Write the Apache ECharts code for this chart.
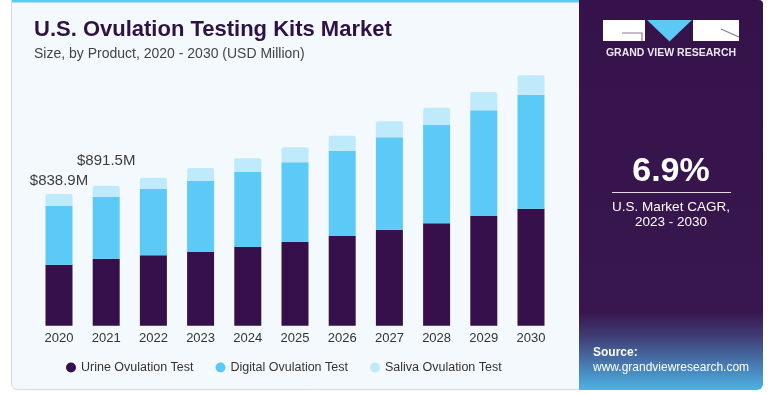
<!DOCTYPE html>
<html>
<head>
<meta charset="utf-8">
<script src="https://cdn.jsdelivr.net/npm/echarts@6/dist/echarts.min.js"></script>
<style>
html,body{margin:0;padding:0;background:#ffffff;}
#chart{width:775px;height:394px;}
</style>
</head>
<body>
<div id="chart"></div>
<script>
// Data (USD Million)
const years = ['2020','2021','2022','2023','2024','2025','2026','2027','2028','2029','2030'];
const urine = [388.6, 427, 448, 469, 501, 535, 571, 611, 652, 699, 745];
const digital = [375.8, 392, 422, 452, 478, 506, 543, 589, 626, 673, 726];
const saliva = [74.5, 72.5, 72, 83, 87, 96, 96, 102, 110, 117, 125];
const labelledYears = ['2020', '2021'];
const seriesNames = ['Urine Ovulation Test', 'Digital Ovulation Test', 'Saliva Ovulation Test'];
const cagrText = '6.9%';

const FONT = '"Liberation Sans", Arial, sans-serif';
const labelDistance = { '2020': 6, '2021': 17 };

const salivaData = saliva.map((v, i) => {
  const y = years[i];
  if (labelledYears.indexOf(y) >= 0) {
    const total = urine[i] + digital[i] + saliva[i];
    return {
      value: v,
      label: {
        show: true,
        position: 'top',
        distance: labelDistance[y],
        formatter: '$' + total.toFixed(1) + 'M',
        color: '#3d3d3d',
        fontSize: 15,
        fontFamily: FONT
      }
    };
  }
  return v;
});

const chart = echarts.init(document.getElementById('chart'), null, { renderer: 'canvas' });

const option = {
  backgroundColor: '#ffffff',
  animation: false,
  title: {
    text: 'U.S. Ovulation Testing Kits Market',
    subtext: 'Size, by Product, 2020 - 2030 (USD Million)',
    left: 29,
    top: 14,
    itemGap: 6,
    textStyle: { color: '#2e1245', fontSize: 22, fontWeight: 'bold', fontFamily: FONT },
    subtextStyle: { color: '#444444', fontSize: 14, fontFamily: FONT }
  },
  legend: {
    data: seriesNames,
    left: 61,
    top: 356,
    icon: 'circle',
    itemWidth: 10,
    itemHeight: 10,
    itemGap: 22,
    textStyle: { color: '#333333', fontSize: 12.5, fontFamily: FONT }
  },
  grid: { left: 35.4, right: 220.4, top: 74.5, bottom: 68.3, containLabel: false },
  xAxis: {
    type: 'category',
    data: years,
    axisLine: { show: false },
    axisTick: { show: false },
    axisLabel: { color: '#333333', fontSize: 13, margin: 6, fontFamily: FONT }
  },
  yAxis: { type: 'value', min: 0, max: 1600, show: false, splitLine: { show: false } },
  series: [
    { name: seriesNames[0], type: 'bar', stack: 'total', data: urine, barWidth: 27,
      itemStyle: { color: '#36104a' } },
    { name: seriesNames[1], type: 'bar', stack: 'total', data: digital, barWidth: 27,
      itemStyle: { color: '#5ccaf6' } },
    { name: seriesNames[2], type: 'bar', stack: 'total', data: salivaData, barWidth: 27,
      itemStyle: { color: '#bfeafb', borderRadius: [2, 2, 0, 0] } }
  ],
  graphic: [
    { type: 'rect', z: -10, shape: { x: 11.5, y: 0.5, width: 600, height: 389, r: [0, 0, 0, 6] },
      style: { fill: '#f4f9fd', stroke: '#d3d9de', lineWidth: 1 } },
    { type: 'rect', z: -9, shape: { x: 12, y: 0, width: 568, height: 2.5 },
      style: { fill: '#5bc8f5' } },
    { type: 'rect', z: -8, shape: { x: 579, y: 0, width: 184, height: 390, r: [0, 4, 6, 0] },
      style: { fill: new echarts.graphic.LinearGradient(0, 0, 0, 1, [
        { offset: 0, color: '#35124a' },
        { offset: 0.80, color: '#38164e' },
        { offset: 0.86, color: '#403b73' },
        { offset: 1, color: '#4db2e6' }
      ]) } },
    // logo
    { type: 'rect', z: 5, shape: { x: 603, y: 20, width: 42, height: 21 }, style: { fill: '#ffffff' } },
    { type: 'polyline', z: 6, shape: { points: [[622, 33], [642, 33], [642, 41]] },
      style: { stroke: '#8a7a96', lineWidth: 1.2, fill: null } },
    { type: 'polygon', z: 5, shape: { points: [[647, 20], [692, 20], [669.5, 41.5]] }, style: { fill: '#5bc8f5' } },
    { type: 'rect', z: 5, shape: { x: 693, y: 20, width: 46, height: 21 }, style: { fill: '#ffffff' } },
    { type: 'line', z: 6, shape: { x1: 721, y1: 29, x2: 739, y2: 37 },
      style: { stroke: '#8a7a96', lineWidth: 1.2 } },
    { type: 'text', z: 5, x: 671, y: 53, style: { text: 'GRAND VIEW RESEARCH', fill: '#ebe6f0',
      font: 'bold 10.5px ' + FONT, align: 'center', verticalAlign: 'middle' } },
    // CAGR
    { type: 'text', z: 5, x: 671, y: 172, style: { text: cagrText, fill: '#ffffff',
      font: 'bold 34px ' + FONT, align: 'center', verticalAlign: 'middle' } },
    { type: 'line', z: 5, shape: { x1: 612, y1: 192.5, x2: 731, y2: 192.5 },
      style: { stroke: 'rgba(255,255,255,0.85)', lineWidth: 1 } },
    { type: 'text', z: 5, x: 671, y: 207, style: { text: 'U.S. Market CAGR,', fill: '#ffffff',
      font: '13.5px ' + FONT, align: 'center', verticalAlign: 'middle' } },
    { type: 'text', z: 5, x: 671, y: 222.5, style: { text: '2023 - 2030', fill: '#ffffff',
      font: '13.5px ' + FONT, align: 'center', verticalAlign: 'middle' } },
    // source
    { type: 'text', z: 5, x: 593, y: 353, style: { text: 'Source:', fill: '#ffffff',
      font: 'bold 12px ' + FONT, align: 'left', verticalAlign: 'middle' } },
    { type: 'text', z: 5, x: 593, y: 368, style: { text: 'www.grandviewresearch.com', fill: '#ffffff',
      font: '12px ' + FONT, align: 'left', verticalAlign: 'middle' } }
  ]
};

chart.setOption(option);
</script>
</body>
</html>
